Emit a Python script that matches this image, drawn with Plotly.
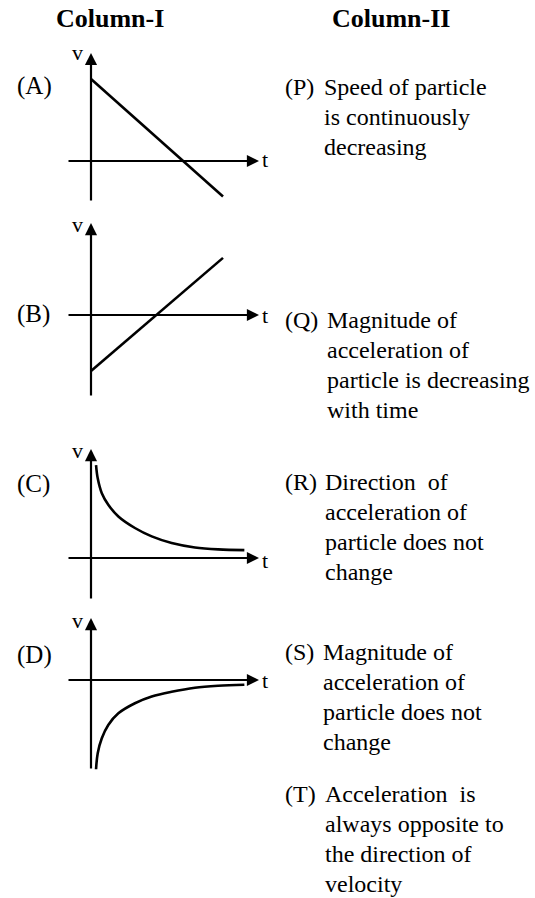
import plotly.graph_objects as go

W, H = 535, 898

# ---------------- data (t, v values) ----------------
A_t = [0.0, 5.5]
A_v = [3.42, -1.48]

B_t = [0.0, 5.5]
B_v = [-2.33, 2.38]

C_t = [0.21, 0.28, 0.45, 0.72, 1.14, 1.83, 2.53, 3.36, 4.33, 5.3, 6.39]
C_v = [3.87, 3.32, 2.70, 2.22, 1.73, 1.25, 0.90, 0.625, 0.44, 0.36, 0.33]

D_t = [0.21, 0.28, 0.45, 0.72, 1.14, 1.83, 2.53, 3.36, 4.33, 5.3, 6.39]
D_v = [-3.72, -3.05, -2.43, -1.875, -1.39, -0.97, -0.69, -0.49, -0.32, -0.24, -0.2]

T_AXIS = [-1.0, 7.0]
V_AXIS_A = [-1.71, 4.5]
V_AXIS_B = [-3.42, 3.83]
V_AXIS_C = [-1.75, 4.54]
V_AXIS_D = [-3.75, 2.58]

PANEL_LABELS = ["(A)", "(B)", "(C)", "(D)"]
HEADERS = ["Column-I", "Column-II"]
LETTERS = ["(P)", "(Q)", "(R)", "(S)", "(T)"]
DESCRIPTIONS = [
    ["Speed of particle", "is continuously", "decreasing"],
    ["Magnitude of", "acceleration of", "particle is decreasing", "with time"],
    ["Direction\u00a0 of", "acceleration of", "particle does not", "change"],
    ["Magnitude of", "acceleration of", "particle does not", "change"],
    ["Acceleration\u00a0 is", "always opposite to", "the direction of", "velocity"],
]

# ---------------- layout geometry (pixels) ----------------
PX = 24.0
ORIGIN_X = 91
ORIGIN_Y = [161, 315, 558, 680]
LABEL_BASE = [95, 322, 493, 663]
V_BASE = [60, 232, 458, 628]
T_BASE = [167, 323, 568, 688]
DESC_BASE = [95, 328, 490, 660, 802]
DESC_X = [322, 325, 323, 321, 323]
LINE_GAP = 30

FONT = "Liberation Serif"
TS = 24  # text size

panels = [(A_t, A_v, V_AXIS_A), (B_t, B_v, V_AXIS_B),
          (C_t, C_v, V_AXIS_C), (D_t, D_v, V_AXIS_D)]

fig = go.Figure()
annotations = []
layout_axes = {}


def txt(x, baseline, s, size=TS, xanchor="left", bold=False):
    yc = baseline - 0.34 * size
    annotations.append(dict(
        x=x / W, y=1 - yc / H, xref="paper", yref="paper",
        text=("<b>%s</b>" % s) if bold else s, showarrow=False,
        xanchor=xanchor, yanchor="middle",
        font=dict(family=FONT, size=size, color="black"),
    ))


for i, (ts, vs, vax) in enumerate(panels):
    k = "" if i == 0 else str(i + 1)
    xr = [T_AXIS[0] - 0.5, T_AXIS[1] + 0.5]
    yr = [vax[0] - 0.4, vax[1] + 0.4]
    oy = ORIGIN_Y[i]
    x0 = ORIGIN_X + xr[0] * PX
    x1 = ORIGIN_X + xr[1] * PX
    ytop = oy - yr[1] * PX
    ybot = oy - yr[0] * PX
    layout_axes["xaxis" + k] = dict(domain=[x0 / W, x1 / W], range=xr, visible=False,
                                    anchor="y" + k, fixedrange=True)
    layout_axes["yaxis" + k] = dict(domain=[1 - ybot / H, 1 - ytop / H], range=yr,
                                    visible=False, anchor="x" + k, fixedrange=True)
    fig.add_trace(go.Scatter(
        x=ts, y=vs, mode="lines", xaxis="x" + k, yaxis="y" + k,
        line=dict(color="black", width=2.6, shape="spline" if len(ts) > 2 else "linear"),
        hoverinfo="skip", showlegend=False,
    ))
    # t axis arrow
    annotations.append(dict(
        x=T_AXIS[1], y=0, ax=T_AXIS[0], ay=0,
        xref="x" + k, yref="y" + k, axref="x" + k, ayref="y" + k,
        text="", showarrow=True, arrowhead=2, arrowsize=1.1, arrowwidth=2.2,
        arrowcolor="black", standoff=0, startstandoff=0,
    ))
    # v axis arrow
    annotations.append(dict(
        x=0, y=vax[1], ax=0, ay=vax[0],
        xref="x" + k, yref="y" + k, axref="x" + k, ayref="y" + k,
        text="", showarrow=True, arrowhead=2, arrowsize=1.1, arrowwidth=2.2,
        arrowcolor="black", standoff=0, startstandoff=0,
    ))
    txt(15, LABEL_BASE[i], PANEL_LABELS[i], size=25)
    txt(77, V_BASE[i], "v", size=22, xanchor="center")
    txt(260, T_BASE[i], "t", size=22)

txt(110, 27, HEADERS[0], size=26, xanchor="center", bold=True)
txt(391, 27, HEADERS[1], size=26, xanchor="center", bold=True)

for j, lines in enumerate(DESCRIPTIONS):
    txt(283, DESC_BASE[j], LETTERS[j])
    for n, line in enumerate(lines):
        txt(DESC_X[j], DESC_BASE[j] + n * LINE_GAP, line)

fig.update_layout(
    width=W, height=H, margin=dict(l=0, r=0, t=0, b=0),
    paper_bgcolor="white", plot_bgcolor="rgba(0,0,0,0)",
    showlegend=False, annotations=annotations, **layout_axes,
)

fig.write_html(
    "out.html",
    config={"displayModeBar": False},
    post_script="document.body.style.margin='0';document.body.style.padding='0';"
                "document.body.style.overflow='hidden';",
)
